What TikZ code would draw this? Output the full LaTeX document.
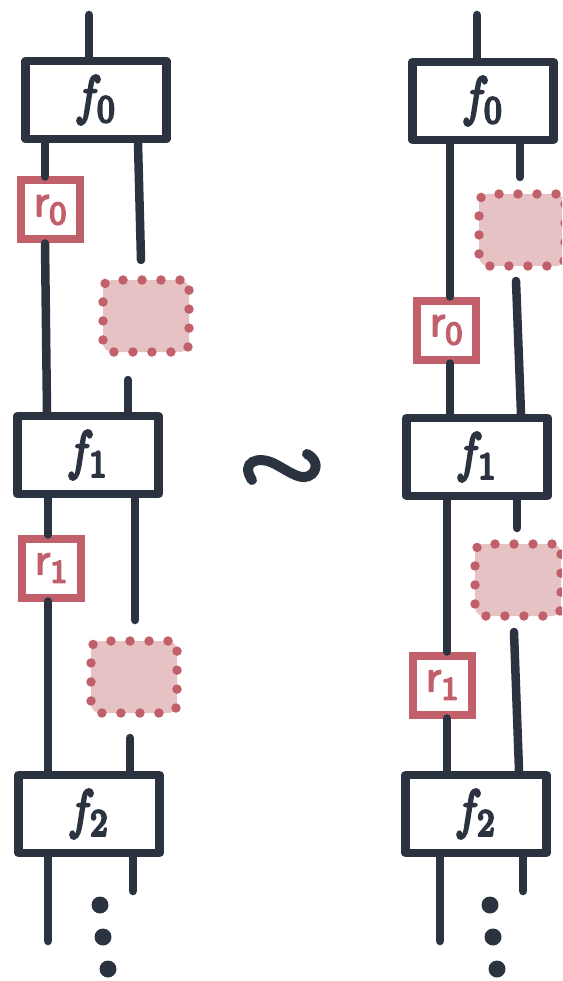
\documentclass[tikz,border=0pt]{standalone}
\usepackage{graphicx}
\definecolor{ink}{HTML}{2C3340}
\definecolor{rust}{HTML}{C1606A}
\definecolor{blush}{HTML}{E6C2C5}
% glyphs drawn with an extra outline stroke so they look pen-written
\newcommand\heavy[2]{\special{pdf:literal 2 Tr #1 w 1 j}#2\special{pdf:literal 0 Tr}}
\newcommand\flab[1]{\scalebox{4.5}[5.4]{\heavy{0.5}{$f_{#1}$}}}
\newcommand\rlab[1]{\scalebox{4.6}{\heavy{0.35}{\sffamily r\raisebox{-0.4ex}{\scriptsize #1}}}}
\tikzset{
  wire/.style={draw=ink, line width=8.5pt, line cap=round},
  fbox/.style={draw=ink, line width=8.5pt, fill=white, minimum width=141pt,
    minimum height=78pt, inner sep=0pt, line join=round, text=ink},
  rbox/.style={draw=rust, line width=8pt, fill=white, minimum width=59pt,
    minimum height=59pt, inner sep=0pt, text=rust},
  blob/.style={fill=blush, draw=rust, line width=9.5pt, line cap=round,
    dash pattern=on 0pt off 19pt, rounded corners=9pt,
    minimum width=86pt, minimum height=72pt, inner sep=0pt},
  dot/.style={circle, fill=ink, minimum size=17pt, inner sep=0pt},
  squiggle/.style={draw=ink, line width=10pt, line cap=round},
}
\begin{document}
\begin{tikzpicture}[x=1pt, y=-1pt]
\useasboundingbox (0,0) rectangle (562,981);
\clip (0,0) rectangle (562,981);

% ---------- left column ----------
\node[fbox] (Lf0) at (96,100) {\flab{0}};
\node[rbox] (Lr0) at (50,210) {\rlab{0}};
\node[blob] (Lb0) at (146,316) {};
\node[fbox] (Lf1) at (88,455) {\flab{1}};
\node[rbox] (Lr1) at (51,568) {\rlab{1}};
\node[blob] (Lb1) at (134,677) {};
\node[fbox] (Lf2) at (89,814) {\flab{2}};

\coordinate (Lin)  at (89,15);
\coordinate (La)   at (141,260);
\coordinate (Lb)   at (128,380);
\coordinate (Lc)   at (135,620);
\coordinate (Ld)   at (130,738);
\coordinate (Le)   at (48,941);
\coordinate (Lg)   at (133,891);

\draw[wire] (Lin) -- (Lin |- Lf0.north);
\draw[wire] ([xshift=-51pt]Lf0.south) -- ([xshift=-5pt]Lr0.north);
\draw[wire] ([xshift=-5pt]Lr0.south) -- ([xshift=-41pt]Lf1.north);
\draw[wire] ([xshift=42pt]Lf0.south) -- (La);
\draw[wire] (Lb) -- (Lb |- Lf1.north);
\draw[wire] ([xshift=-40pt]Lf1.south) -- ([xshift=-3pt]Lr1.north);
\draw[wire] ([xshift=-3pt]Lr1.south) -- ([xshift=-41pt]Lf2.north);
\draw[wire] ([xshift=47pt]Lf1.south) -- (Lc);
\draw[wire] (Ld) -- (Ld |- Lf2.north);
\draw[wire] (Le |- Lf2.south) -- (Le);
\draw[wire] (Lg |- Lf2.south) -- (Lg);
\node[dot] (Ld1) at (100,905) {};
\node[dot] (Ld2) at (103,937) {};
\node[dot] (Ld3) at (108,969) {};

% ---------- equivalence sign ----------
\coordinate (s0) at (252,480);
\coordinate (s1) at (307,454);
\draw[squiggle] (s0) .. controls (240,462) and (258,455) .. (275,464)
  .. controls (292,473) and (302,482) .. (312,474)
  .. controls (319,467) and (315,458) .. (s1);

% ---------- right column ----------
\node[fbox] (Rf0) at (483,101) {\flab{0}};
\node[blob] (Rb0) at (522,230) {};
\node[rbox] (Rr0) at (446,330) {\rlab{0}};
\node[fbox] (Rf1) at (477,457) {\flab{1}};
\node[blob] (Rb1) at (518,580) {};
\node[rbox] (Rr1) at (442,685) {\rlab{1}};
\node[fbox] (Rf2) at (476,814) {\flab{2}};

\coordinate (Rin) at (477,15);
\coordinate (Ra)  at (520,177);
\coordinate (Rb)  at (516,281);
\coordinate (Rc)  at (517,528);
\coordinate (Rd)  at (514,632);
\coordinate (Re)  at (440,941);
\coordinate (Rg)  at (523,891);

\draw[wire] (Rin) -- (Rin |- Rf0.north);
\draw[wire] ([xshift=-33pt]Rf0.south) -- ([xshift=4pt]Rr0.north);
\draw[wire] ([xshift=4pt]Rr0.south) -- ([xshift=-27pt]Rf1.north);
\draw[wire] (Ra |- Rf0.south) -- (Ra);
\draw[wire] (Rb) -- ([xshift=44pt]Rf1.north);
\draw[wire] ([xshift=-30pt]Rf1.south) -- ([xshift=5pt]Rr1.north);
\draw[wire] ([xshift=5pt]Rr1.south) -- ([xshift=-29pt]Rf2.north);
\draw[wire] (Rc |- Rf1.south) -- (Rc);
\draw[wire] (Rd) -- ([xshift=43pt]Rf2.north);
\draw[wire] (Re |- Rf2.south) -- (Re);
\draw[wire] (Rg |- Rf2.south) -- (Rg);
\node[dot] (Rd1) at (490,905) {};
\node[dot] (Rd2) at (493,937) {};
\node[dot] (Rd3) at (497,969) {};
\end{tikzpicture}
\end{document}
